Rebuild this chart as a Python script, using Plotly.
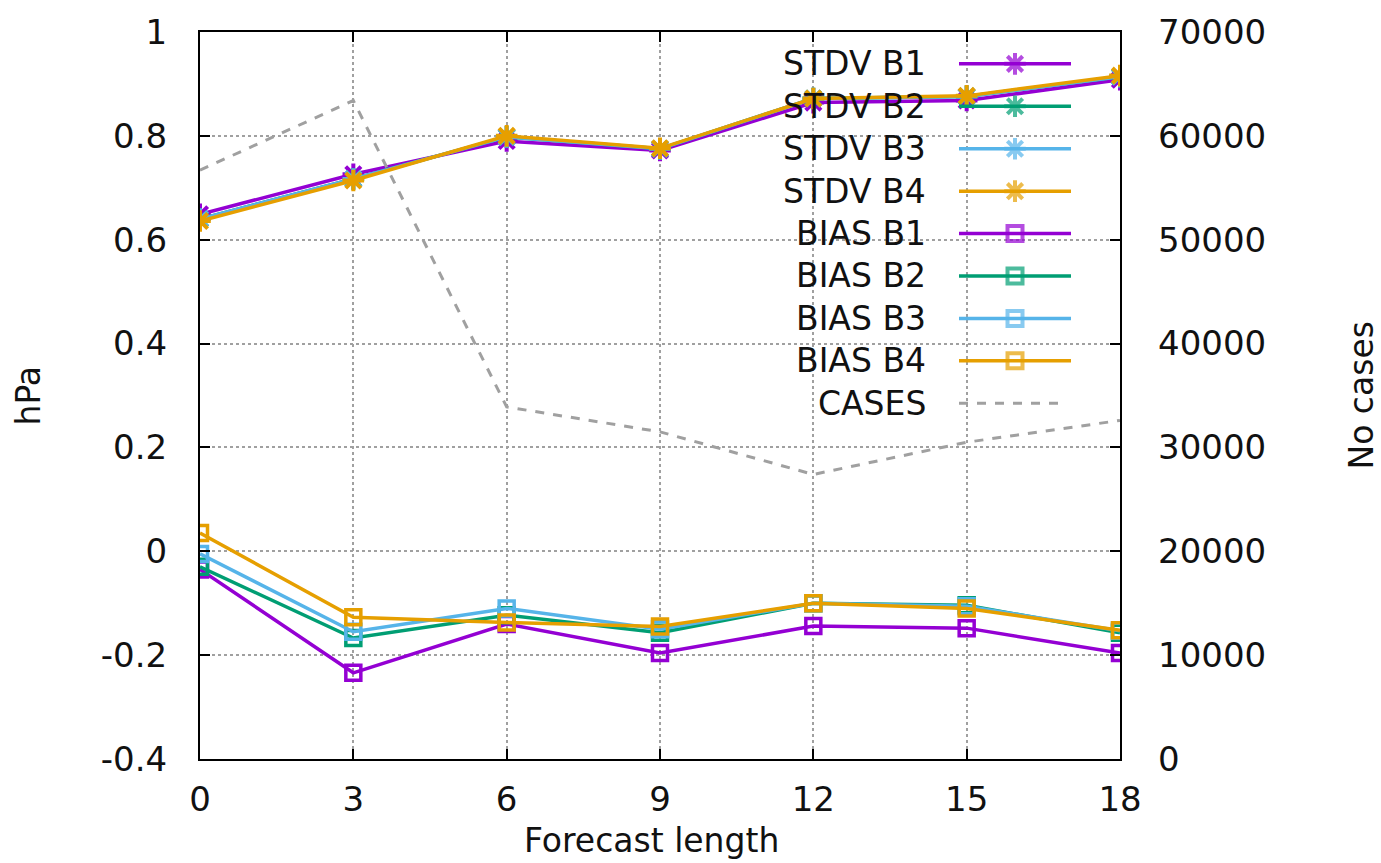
import plotly.graph_objects as go

forecast = [0, 3, 6, 9, 12, 15, 18]

stdv_b1 = [0.649, 0.726, 0.790, 0.772, 0.864, 0.868, 0.908]
stdv_b2 = [0.640, 0.717, 0.798, 0.775, 0.872, 0.876, 0.914]
stdv_b3 = [0.640, 0.717, 0.798, 0.775, 0.872, 0.876, 0.914]
stdv_b4 = [0.636, 0.714, 0.800, 0.776, 0.872, 0.877, 0.916]

bias_b1 = [-0.035, -0.234, -0.140, -0.196, -0.144, -0.148, -0.196]
bias_b2 = [-0.030, -0.167, -0.123, -0.157, -0.100, -0.104, -0.157]
bias_b3 = [-0.005, -0.155, -0.110, -0.150, -0.100, -0.106, -0.153]
bias_b4 = [0.035, -0.127, -0.137, -0.145, -0.100, -0.110, -0.152]

cases = [56700, 63400, 33900, 31500, 27400, 30500, 32600]

names = ["STDV B1", "STDV B2", "STDV B3", "STDV B4",
         "BIAS B1", "BIAS B2", "BIAS B3", "BIAS B4", "CASES"]
colors = ["#9400d3", "#009e73", "#56b4e9", "#e69f00"]
gray = "#a0a0a0"

FONT = "DejaVu Sans"
W, H = 1381, 863
L, R, T, B = 200, 1120, 29, 759
XMIN, XMAX = 0, 18
YMIN, YMAX = -0.4, 1.0


def fx(p):  # pixel -> plot-area paper fraction
    return (p - L) / (R - L)


def fy(p):
    return (B - p) / (B - T)


fig = go.Figure()

fig.add_trace(go.Scatter(x=forecast, y=cases, mode="lines", yaxis="y2",
                         line=dict(color=gray, width=3, dash="dash"),
                         showlegend=False))

stdv = [stdv_b1, stdv_b2, stdv_b3, stdv_b4]
bias = [bias_b1, bias_b2, bias_b3, bias_b4]
for i, s in enumerate(stdv):
    fig.add_trace(go.Scatter(x=forecast, y=s, mode="lines+markers",
                             line=dict(color=colors[i], width=3.5),
                             marker=dict(symbol="asterisk-open", size=18,
                                         color=colors[i],
                                         line=dict(color=colors[i], width=4)),
                             showlegend=False))
for i, s in enumerate(bias):
    fig.add_trace(go.Scatter(x=forecast, y=s, mode="lines+markers",
                             line=dict(color=colors[i], width=3.5),
                             marker=dict(symbol="square-open", size=15,
                                         color=colors[i],
                                         line=dict(color=colors[i], width=3.5)),
                             showlegend=False))

# custom gnuplot-style legend: text, then line sample with marker
shapes = [dict(type="rect", xref="paper", yref="paper",
               x0=fx(757), x1=fx(1097), y0=fy(424), y1=fy(38),
               fillcolor="white", line=dict(width=0), layer="between")]
annotations = []
leg_x, leg_y, leg_sym, leg_col, leg_size = [], [], [], [], []
for k, name in enumerate(names):
    yy = 61 + 42.6 * k
    annotations.append(dict(x=fx(928), y=fy(yy), xref="paper", yref="paper",
                            text=name, showarrow=False, xanchor="right",
                            yanchor="middle",
                            font=dict(family=FONT, size=33, color="#111111")))
    if k < 8:
        c = colors[k % 4]
        shapes.append(dict(type="line", xref="paper", yref="paper",
                           x0=fx(959), x1=fx(1071), y0=fy(yy), y1=fy(yy),
                           line=dict(color=c, width=3.5), layer="above"))
        leg_x.append(XMIN + fx(1015) * (XMAX - XMIN))
        leg_y.append(YMIN + fy(yy) * (YMAX - YMIN))
        leg_sym.append("asterisk-open" if k < 4 else "square-open")
        leg_size.append(18 if k < 4 else 15)
        leg_col.append(c)
    else:
        shapes.append(dict(type="line", xref="paper", yref="paper",
                           x0=fx(959), x1=fx(1060), y0=fy(yy), y1=fy(yy),
                           line=dict(color=gray, width=3, dash="dash"), layer="above"))

fig.add_trace(go.Scatter(x=leg_x, y=leg_y, mode="markers",
                         marker=dict(symbol=leg_sym, size=leg_size, color=leg_col,
                                     line=dict(color=leg_col, width=4)),
                         showlegend=False, hoverinfo="skip", cliponaxis=False))

title_font = dict(family=FONT, size=33, color="#111111")
annotations.append(dict(x=fx(651), y=fy(862), xref="paper", yref="paper",
                        text="Forecast length", showarrow=False,
                        xanchor="center", yanchor="bottom", font=title_font))
annotations.append(dict(x=fx(28), y=fy(394), xref="paper", yref="paper",
                        text="hPa", showarrow=False, textangle=-90,
                        xanchor="center", yanchor="middle", font=title_font))
annotations.append(dict(x=fx(1361), y=fy(394), xref="paper", yref="paper",
                        text="No cases", showarrow=False, textangle=-90,
                        xanchor="center", yanchor="middle", font=title_font))

axis_font = dict(family=FONT, size=34, color="#111111")
fig.update_layout(
    width=W, height=H,
    margin=dict(l=L, r=W - R, t=T, b=H - B),
    paper_bgcolor="white", plot_bgcolor="white",
    font=dict(family=FONT, size=33, color="#111111"),
    xaxis=dict(range=[XMIN, XMAX], tickvals=forecast, ticks="inside", ticklen=10,
               tickwidth=1.5, tickcolor="black", showline=True, linecolor="black",
               linewidth=2, mirror="ticks", showgrid=True, gridcolor="#a0a0a0",
               griddash="dot", gridwidth=1.5, zeroline=False, tickfont=axis_font,
               ticklabelstandoff=9),
    yaxis=dict(range=[YMIN, YMAX], tickvals=[-0.4, -0.2, 0, 0.2, 0.4, 0.6, 0.8, 1],
               ticktext=["-0.4", "-0.2", "0", "0.2", "0.4", "0.6", "0.8", "1"],
               ticks="inside", ticklen=10, tickwidth=1.5, tickcolor="black",
               showline=True, linecolor="black", linewidth=2, mirror=True,
               showgrid=True, gridcolor="#a0a0a0", griddash="dot", gridwidth=1.5,
               zeroline=False, tickfont=axis_font, ticklabelstandoff=24),
    yaxis2=dict(range=[0, 70000], tickvals=list(range(0, 70001, 10000)),
                tickformat="d",
                overlaying="y", side="right", ticks="inside", ticklen=10,
                tickwidth=1.5, tickcolor="black", showgrid=False, zeroline=False,
                showline=False, tickfont=axis_font, ticklabelstandoff=37),
    shapes=shapes,
    annotations=annotations,
)

fig.write_html("out.html")
